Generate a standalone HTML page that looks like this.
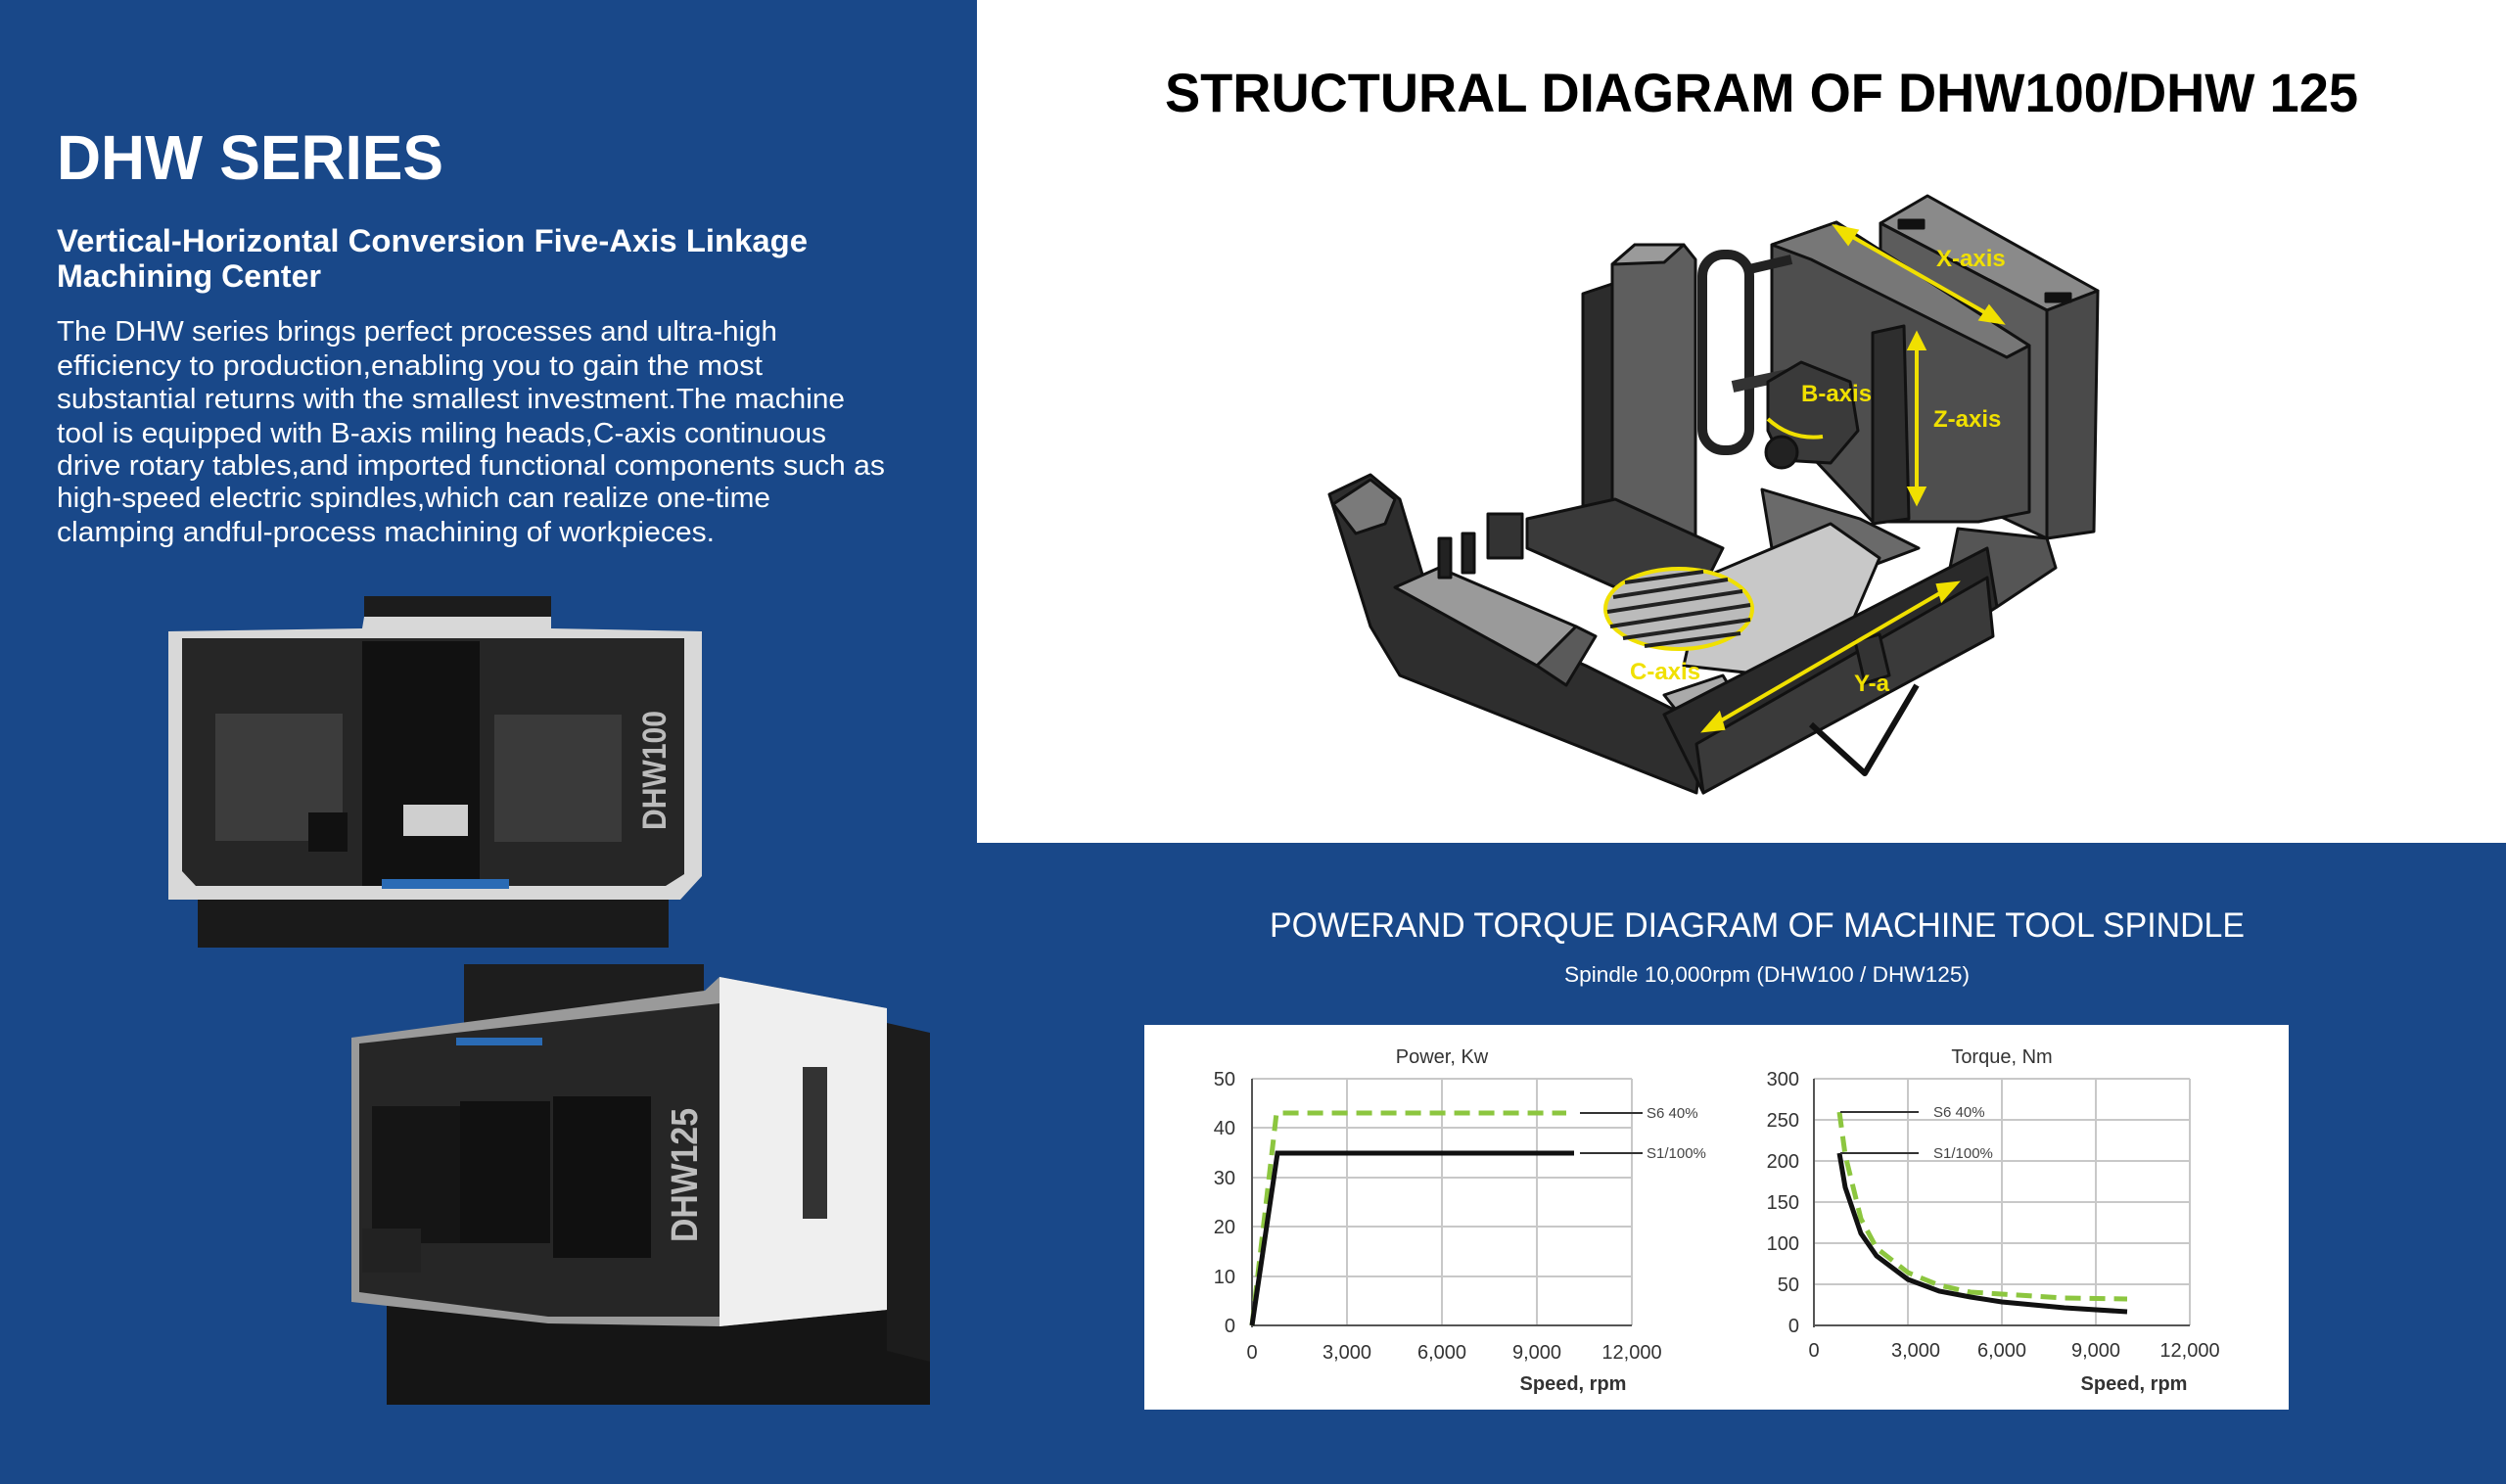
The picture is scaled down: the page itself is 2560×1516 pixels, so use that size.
<!DOCTYPE html>
<html><head><meta charset="utf-8"><style>
html,body{margin:0;padding:0;}
body{width:2560px;height:1516px;overflow:hidden;background:#194889;}
svg{display:block;}
</style></head><body>
<svg width="2560" height="1516" viewBox="0 0 2560 1516" xmlns="http://www.w3.org/2000/svg" font-family="Liberation Sans, sans-serif">
<rect x="0" y="0" width="2560" height="1516" fill="#194889"/>
<rect x="998" y="0" width="1562" height="861" fill="#ffffff"/>

<!-- Left text -->
<text x="58" y="183" font-size="64" font-weight="bold" fill="#fff" textLength="395" lengthAdjust="spacingAndGlyphs">DHW SERIES</text>
<text x="58" y="257" font-size="32" font-weight="bold" fill="#fff" textLength="767" lengthAdjust="spacingAndGlyphs">Vertical-Horizontal Conversion Five-Axis Linkage</text>
<text x="58" y="293" font-size="32" font-weight="bold" fill="#fff" textLength="270" lengthAdjust="spacingAndGlyphs">Machining Center</text>
<g font-size="29" fill="#fff">
<text x="58" y="348" textLength="736" lengthAdjust="spacingAndGlyphs">The DHW series brings perfect processes and ultra-high</text>
<text x="58" y="383" textLength="721" lengthAdjust="spacingAndGlyphs">efficiency to production,enabling you to gain the most</text>
<text x="58" y="417" textLength="805" lengthAdjust="spacingAndGlyphs">substantial returns with the smallest investment.The machine</text>
<text x="58" y="452" textLength="786" lengthAdjust="spacingAndGlyphs">tool is equipped with B-axis miling heads,C-axis continuous</text>
<text x="58" y="485" textLength="846" lengthAdjust="spacingAndGlyphs">drive rotary tables,and imported functional components such as</text>
<text x="58" y="518" textLength="729" lengthAdjust="spacingAndGlyphs">high-speed electric spindles,which can realize one-time</text>
<text x="58" y="553" textLength="672" lengthAdjust="spacingAndGlyphs">clamping andful-process machining of workpieces.</text>
</g>

<!-- DHW100 machine -->
<rect x="202" y="915" width="481" height="53" fill="#1a1a1a"/>
<rect x="372" y="609" width="191" height="50" fill="#1c1c1c"/>
<polygon points="172,645 370,642 372,630 563,630 563,642 717,645 717,895 695,919 172,919 172,645" fill="#d8d8d8"/>
<polygon points="186,652 699,652 699,893 680,905 200,905 186,890" fill="#262626"/>
<rect x="220" y="729" width="130" height="130" fill="#3c3c3c"/>
<rect x="505" y="730" width="130" height="130" fill="#3a3a3a"/>
<rect x="370" y="655" width="120" height="250" fill="#111"/>
<rect x="412" y="822" width="66" height="32" fill="#cfcfcf"/>
<rect x="390" y="898" width="130" height="10" fill="#2a6bb5"/>
<rect x="315" y="830" width="40" height="40" fill="#111"/>
<text transform="translate(680,848) rotate(-90)" font-size="34" font-weight="bold" fill="#bbb" textLength="122" lengthAdjust="spacingAndGlyphs">DHW100</text>

<!-- DHW125 machine -->
<rect x="395" y="1330" width="555" height="105" fill="#151515"/>
<rect x="474" y="985" width="245" height="80" fill="#1d1d1d"/>
<polygon points="359,1060 470,1045 720,1012 735,998 906,1030 906,1338 735,1355 560,1352 359,1330" fill="#9a9a9a"/>
<polygon points="367,1066 735,1025 735,1345 560,1345 367,1320" fill="#262626"/>
<rect x="380" y="1130" width="140" height="140" fill="#151515"/>
<rect x="470" y="1125" width="92" height="145" fill="#111"/>
<rect x="565" y="1120" width="100" height="165" fill="#101010"/>
<rect x="466" y="1060" width="88" height="8" fill="#2a6bb5"/>
<polygon points="735,998 906,1030 906,1338 735,1355" fill="#efefef"/>
<rect x="820" y="1090" width="25" height="155" fill="#333"/>
<polygon points="906,1045 950,1055 950,1391 906,1380" fill="#1c1c1c"/>
<rect x="370" y="1255" width="60" height="45" fill="#222"/>
<text transform="translate(712,1269) rotate(-90)" font-size="38" font-weight="bold" fill="#bdbdbd" textLength="137" lengthAdjust="spacingAndGlyphs">DHW125</text>

<!-- Structural title -->
<text x="1190" y="114" font-size="56" font-weight="bold" fill="#000" textLength="1219" lengthAdjust="spacingAndGlyphs">STRUCTURAL DIAGRAM OF DHW100/DHW 125</text>

<!-- Structural machine approx -->
<g stroke="#111" stroke-width="3" stroke-linejoin="round">
<!-- right cabinet -->
<polygon points="1921,228 1969,200 2143,297 2091,317" fill="#8a8a8a"/>
<polygon points="2091,317 2143,297 2139,543 2091,550" fill="#4a4a4a"/>
<polygon points="1921,228 2091,317 2091,550 1921,470" fill="#5c5c5c"/>
<rect x="1940" y="225" width="25" height="8" fill="#111"/>
<rect x="2090" y="300" width="25" height="8" fill="#111"/>
<!-- column / saddle -->
<polygon points="1810,250 1876,227 2073,353 2073,523 2021,533 1913,533 1810,423" fill="#4e4e4e"/>
<polygon points="1810,250 1876,227 2073,353 2050,365 1850,265" fill="#777"/>
<!-- left frame + tower -->
<polygon points="1617,300 1647,290 1647,523 1617,530" fill="#2c2c2c"/>
<polygon points="1647,270 1670,250 1720,250 1732,265 1732,550 1647,550" fill="#5e5e5e"/>
<polygon points="1647,270 1670,250 1720,250 1700,268" fill="#9a9a9a"/>
<!-- cable chain -->
<rect x="1739" y="260" width="48" height="200" rx="22" fill="none" stroke="#222" stroke-width="10"/>
<line x1="1787" y1="275" x2="1830" y2="265" stroke="#222" stroke-width="10"/>
<line x1="1770" y1="395" x2="1840" y2="380" stroke="#333" stroke-width="12"/>
<!-- spindle head -->
<polygon points="1806,390 1840,370 1890,390 1898,440 1870,473 1820,470 1806,440" fill="#3a3a3a"/>
<circle cx="1820" cy="462" r="16" fill="#222"/>
<!-- Z column -->
<polygon points="1913,340 1945,333 1950,530 1913,535" fill="#2e2e2e"/>
<!-- base frame near tower -->
<polygon points="1560,530 1650,510 1760,560 1740,600 1650,600 1560,560" fill="#3a3a3a"/>
<polygon points="1800,500 1900,530 1960,560 1880,590 1810,560" fill="#6a6a6a"/>
<polygon points="2000,540 2091,550 2100,580 2040,620 1990,590" fill="#555"/>
<!-- chip conveyor -->
<polygon points="1358,505 1400,485 1430,510 1460,610 1620,680 1740,740 1733,810 1430,690 1400,640" fill="#2e2e2e"/>
<polygon points="1362,515 1400,490 1425,510 1415,535 1385,545" fill="#7a7a7a"/>
<polygon points="1425,600 1470,580 1610,640 1570,680" fill="#9a9a9a"/>
<polygon points="1570,680 1610,640 1630,650 1600,700" fill="#5a5a5a"/>
<rect x="1470" y="550" width="12" height="40" fill="#222"/>
<rect x="1494" y="545" width="12" height="40" fill="#222"/>
<rect x="1520" y="525" width="35" height="45" fill="#333"/>
<!-- bed -->
<polygon points="1740,590 1870,535 1920,570 1890,640 1810,690 1720,680" fill="#c8c8c8"/>
<polygon points="1700,710 1760,690 1790,740 1740,760" fill="#aaa"/>
<polygon points="1700,730 2030,560 2040,620 1740,810" fill="#2a2a2a"/>
<polygon points="1733,760 2030,590 2036,650 1740,810" fill="#3a3a3a"/>
<polygon points="1895,655 1920,648 1930,690 1905,698" fill="#333"/>
<polyline points="1850,740 1905,790 1958,700" fill="none" stroke-width="6"/>
</g>
<!-- rotary table -->
<ellipse cx="1715" cy="622" rx="75" ry="41" fill="#bbb" stroke="#f0e000" stroke-width="4"/>
<g stroke="#222" stroke-width="4">
<line x1="1660" y1="595" x2="1740" y2="584"/><line x1="1648" y1="610" x2="1765" y2="592"/>
<line x1="1642" y1="625" x2="1780" y2="604"/><line x1="1645" y1="640" x2="1788" y2="618"/>
<line x1="1658" y1="652" x2="1788" y2="633"/><line x1="1680" y1="660" x2="1778" y2="647"/>
</g>
<g stroke="#f0e000" stroke-width="4" fill="#f0e000">
<line x1="1882" y1="236" x2="2038" y2="325"/>
<polygon points="1876,232 1896,236 1888,248"/>
<polygon points="2044,329 2024,326 2032,314"/>
<line x1="1958" y1="350" x2="1958" y2="505"/>
<polygon points="1958,342 1951,356 1965,356"/>
<polygon points="1958,513 1951,499 1965,499"/>
<line x1="1748" y1="742" x2="1992" y2="600"/>
<polygon points="1742,746 1756,730 1760,744"/>
<polygon points="1998,596 1984,612 1980,598"/>
<path d="M1806,428 Q1830,450 1862,446" fill="none"/>
</g>
<g font-size="24" font-weight="bold" fill="#f0e000">
<text x="1978" y="272">X-axis</text>
<text x="1840" y="410">B-axis</text>
<text x="1975" y="436">Z-axis</text>
<text x="1665" y="694">C-axis</text>
<text x="1894" y="706">Y-a</text>
</g>

<!-- Chart header -->
<text x="1297" y="957" font-size="35" fill="#fff" textLength="996" lengthAdjust="spacingAndGlyphs">POWERAND TORQUE DIAGRAM OF MACHINE TOOL SPINDLE</text>
<text x="1598" y="1003" font-size="22" fill="#fff" textLength="414" lengthAdjust="spacingAndGlyphs">Spindle  10,000rpm (DHW100 / DHW125)</text>

<!-- Chart box -->
<rect x="1169" y="1047" width="1169" height="393" fill="#fff"/>
<g stroke="#c8c8c8" stroke-width="2">
<line x1="1279" y1="1102" x2="1667" y2="1102"/><line x1="1279" y1="1152" x2="1667" y2="1152"/>
<line x1="1279" y1="1203" x2="1667" y2="1203"/><line x1="1279" y1="1253" x2="1667" y2="1253"/>
<line x1="1279" y1="1304" x2="1667" y2="1304"/>
<line x1="1376" y1="1102" x2="1376" y2="1354"/><line x1="1473" y1="1102" x2="1473" y2="1354"/>
<line x1="1570" y1="1102" x2="1570" y2="1354"/><line x1="1667" y1="1102" x2="1667" y2="1354"/>
<line x1="1853" y1="1102" x2="2237" y2="1102"/><line x1="1853" y1="1144" x2="2237" y2="1144"/>
<line x1="1853" y1="1186" x2="2237" y2="1186"/><line x1="1853" y1="1228" x2="2237" y2="1228"/>
<line x1="1853" y1="1270" x2="2237" y2="1270"/><line x1="1853" y1="1312" x2="2237" y2="1312"/>
<line x1="1949" y1="1102" x2="1949" y2="1354"/><line x1="2045" y1="1102" x2="2045" y2="1354"/>
<line x1="2141" y1="1102" x2="2141" y2="1354"/><line x1="2237" y1="1102" x2="2237" y2="1354"/>
</g>
<g stroke="#555" stroke-width="2">
<line x1="1279" y1="1102" x2="1279" y2="1356"/><line x1="1279" y1="1354" x2="1667" y2="1354"/>
<line x1="1853" y1="1102" x2="1853" y2="1356"/><line x1="1853" y1="1354" x2="2237" y2="1354"/>
</g>
<polyline points="1279,1354 1304,1137 1600,1137" fill="none" stroke="#8cc63f" stroke-width="5" stroke-dasharray="16,9"/>
<polyline points="1279,1354 1305,1178 1608,1178" fill="none" stroke="#111" stroke-width="5"/>
<polyline points="1879,1136 1885,1180 1901,1245 1917,1275 1949,1300 1981,1313 2013,1320 2045,1322 2109,1326 2173,1327" fill="none" stroke="#8cc63f" stroke-width="5" stroke-dasharray="16,9"/>
<polyline points="1879,1178 1885,1213 1901,1260 1917,1283 1949,1307 1981,1319 2013,1325 2045,1330 2109,1336 2173,1340" fill="none" stroke="#111" stroke-width="5"/>
<g stroke="#333" stroke-width="2">
<line x1="1614" y1="1137" x2="1678" y2="1137"/><line x1="1614" y1="1178" x2="1678" y2="1178"/>
<line x1="1880" y1="1136" x2="1960" y2="1136"/><line x1="1880" y1="1178" x2="1960" y2="1178"/>
</g>
<g font-size="15" fill="#444">
<text x="1682" y="1142">S6 40%</text><text x="1682" y="1183">S1/100%</text>
<text x="1975" y="1141">S6 40%</text><text x="1975" y="1183">S1/100%</text>
</g>
<g font-size="20" fill="#333">
<text x="1473" y="1086" text-anchor="middle">Power, Kw</text>
<text x="2045" y="1086" text-anchor="middle">Torque, Nm</text>
<text x="1607" y="1420" text-anchor="middle" font-weight="bold">Speed, rpm</text>
<text x="2180" y="1420" text-anchor="middle" font-weight="bold">Speed, rpm</text>
</g>
<g font-size="20" fill="#333" text-anchor="end">
<text x="1262" y="1109">50</text><text x="1262" y="1159">40</text><text x="1262" y="1210">30</text>
<text x="1262" y="1260">20</text><text x="1262" y="1311">10</text><text x="1262" y="1361">0</text>
<text x="1838" y="1109">300</text><text x="1838" y="1151">250</text><text x="1838" y="1193">200</text>
<text x="1838" y="1235">150</text><text x="1838" y="1277">100</text><text x="1838" y="1319">50</text><text x="1838" y="1361">0</text>
</g>
<g font-size="20" fill="#333" text-anchor="middle">
<text x="1279" y="1388">0</text><text x="1376" y="1388">3,000</text><text x="1473" y="1388">6,000</text>
<text x="1570" y="1388">9,000</text><text x="1667" y="1388">12,000</text>
<text x="1853" y="1386">0</text><text x="1957" y="1386">3,000</text><text x="2045" y="1386">6,000</text>
<text x="2141" y="1386">9,000</text><text x="2237" y="1386">12,000</text>
</g>
</svg>
</body></html>
